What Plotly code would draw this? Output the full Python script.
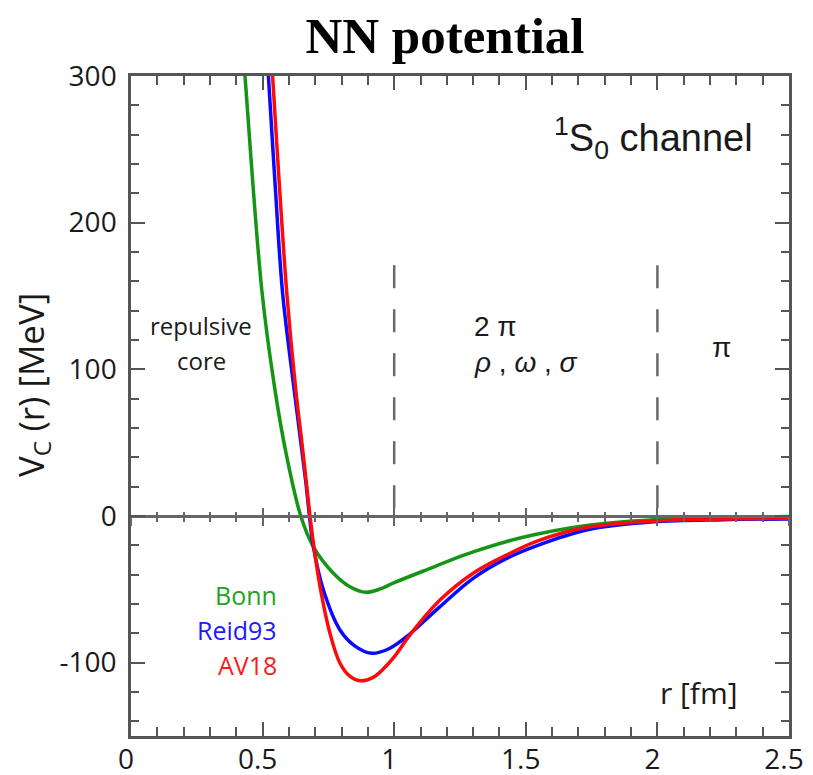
import plotly.graph_objects as go

# ---- data ----
r_bonn = [0.420, 0.433, 0.497, 0.547, 0.590, 0.645, 0.693, 0.769, 0.830, 0.893, 0.950, 1.000, 1.111, 1.300, 1.478, 1.731, 1.985, 2.250, 2.500]
v_bonn = [330, 300, 154, 86, 42, 0, -21, -39, -48, -52, -49.5, -45.5, -37.5, -24.5, -15, -6.5, -2.5, -0.9, -0.3]

r_reid = [0.510, 0.522, 0.548, 0.576, 0.620, 0.644, 0.665, 0.678, 0.693, 0.731, 0.794, 0.850, 0.914, 0.980, 1.047, 1.174, 1.300, 1.427, 1.548, 1.731, 1.985, 2.250, 2.500]
v_reid = [336, 300, 225, 152, 86, 52, 22, 0, -21, -50.5, -77.7, -88.5, -93.6, -90.5, -82.3, -61.8, -42.5, -28.9, -19.8, -9.5, -4.0, -2.5, -2.0]

r_av18 = [0.527, 0.538, 0.564, 0.592, 0.626, 0.648, 0.668, 0.680, 0.695, 0.718, 0.756, 0.794, 0.830, 0.870, 0.920, 0.960, 1.000, 1.060, 1.174, 1.300, 1.427, 1.548, 1.731, 1.985, 2.250, 2.500]
v_av18 = [330, 300, 225, 152, 86, 52, 20, 0, -21, -48, -80, -100.4, -109, -112.3, -110, -104, -96, -81, -57.3, -39, -26.6, -16.8, -7.7, -3.4, -2.0, -1.5]

series_names = ["Bonn", "Reid93", "AV18"]
series_colors = ["#149614", "#0a0aff", "#ff0a0a"]
label_colors = ["#22a322", "#1a1aff", "#ff1a1a"]

boundaries = [1, 2]          # range boundaries (dashed)
boundary_top = 171

x_tickvals = [0, 0.5, 1, 1.5, 2, 2.5]
x_ticktext = ["0", "0.5", "1", "1.5", "2", "2.5"]
y_tickvals = [-100, 0, 100, 200, 300]
y_ticktext = ["-100", "0", "100", "200", "300"]

FRAME = "#555555"
SANS = "Open Sans"

fig = go.Figure()

for rs, vs, name, col in zip([r_bonn, r_reid, r_av18], [v_bonn, v_reid, v_av18], series_names, series_colors):
    fig.add_trace(go.Scatter(x=rs, y=vs, mode="lines", name=name,
                             line=dict(color=col, width=3.5, shape="spline", smoothing=1.0),
                             showlegend=False, hoverinfo="skip"))

for b in boundaries:
    fig.add_trace(go.Scatter(x=[b, b], y=[boundary_top, 0], mode="lines",
                             line=dict(color="#6a6a6a", width=2.5, dash="23px,21px"),
                             showlegend=False, hoverinfo="skip"))

# dummy traces for the zero-line tick axes
fig.add_trace(go.Scatter(x=[None], y=[None], xaxis="x2", yaxis="y", showlegend=False, hoverinfo="skip"))
fig.add_trace(go.Scatter(x=[None], y=[None], xaxis="x3", yaxis="y", showlegend=False, hoverinfo="skip"))

axis_font = dict(family=SANS, size=28, color="#1a1a1a")

# the page body has an 8px default margin, so the figure is sized/offset accordingly
W, H = 805, 767
fig.update_layout(
    width=W, height=H,
    margin=dict(l=123, r=24, t=68, b=39),
    paper_bgcolor="white", plot_bgcolor="white",
    title=dict(text="<b>NN potential</b>", x=437/W, xref="container", xanchor="center",
               y=1-27/H, yref="container", yanchor="middle",
               font=dict(family="Liberation Serif", size=51, color="black")),
    xaxis=dict(range=[0, 2.5], tickvals=x_tickvals, ticktext=x_ticktext, automargin=False,
               ticks="inside", ticklen=14, tickwidth=2, tickcolor=FRAME,
               minor=dict(dtick=0.1, tick0=0, ticks="inside", ticklen=9, tickwidth=2, tickcolor=FRAME, showgrid=False),
               showline=True, linecolor=FRAME, linewidth=2.5, mirror="ticks",
               showgrid=False, zeroline=False, tickfont=axis_font, ticklabelstandoff=-3,
               ticklabelshift=-5),
    yaxis=dict(range=[-150, 300], tickvals=y_tickvals, ticktext=y_ticktext, automargin=False,
               ticks="inside", ticklen=14, tickwidth=2, tickcolor=FRAME,
               minor=dict(dtick=20, tick0=0, ticks="inside", ticklen=8, tickwidth=2, tickcolor=FRAME, showgrid=False),
               showline=True, linecolor=FRAME, linewidth=2.5, mirror="ticks",
               showgrid=False, zeroline=False, tickfont=axis_font, ticklabelstandoff=6),
    xaxis2=dict(range=[0, 2.5], overlaying="x", anchor="free", position=150/450, automargin=False,
                tickvals=x_tickvals, showticklabels=False,
                ticks="outside", ticklen=8, tickwidth=2, tickcolor="#666666",
                minor=dict(dtick=0.1, tick0=0, ticks="outside", ticklen=4, tickwidth=2, tickcolor="#666666", showgrid=False),
                showline=True, linecolor="#666666", linewidth=2.5, showgrid=False, zeroline=False),
    xaxis3=dict(range=[0, 2.5], overlaying="x", anchor="free", position=150/450, automargin=False,
                tickvals=x_tickvals, showticklabels=False,
                ticks="inside", ticklen=8, tickwidth=2, tickcolor="#666666",
                minor=dict(dtick=0.1, tick0=0, ticks="inside", ticklen=4, tickwidth=2, tickcolor="#666666", showgrid=False),
                showline=False, showgrid=False, zeroline=False),
)

ann = []
# y axis title
ann.append(dict(text="V<sub>C</sub> (r) [MeV]", xref="paper", yref="paper",
                x=-(131-32)/658, y=(736-385)/660, xanchor="center", yanchor="middle",
                textangle=-90, showarrow=False, font=dict(family=SANS, size=35, color="#1a1a1a")))
# channel label
ann.append(dict(text="<sup>1</sup>S<sub>0</sub> channel", x=1.987, y=258, xref="x", yref="y",
                showarrow=False, font=dict(family="Liberation Sans", size=38, color="#1a1a1a")))
# regions
ann.append(dict(text="repulsive", x=0.266, y=130, xref="x", yref="y", showarrow=False,
                font=dict(family=SANS, size=24, color="#1a1a1a")))
ann.append(dict(text="core", x=0.266, y=106, xref="x", yref="y", showarrow=False,
                font=dict(family=SANS, size=24, color="#1a1a1a")))
ann.append(dict(text="2 π", x=1.385, y=129.5, xref="x", yref="y", showarrow=False,
                font=dict(family="Liberation Sans", size=28, color="#1a1a1a")))
ann.append(dict(text="<i>ρ</i> , <i>ω</i> , <i>σ</i>", x=1.50, y=105, xref="x", yref="y", showarrow=False,
                font=dict(family="Liberation Sans", size=28, color="#1a1a1a")))
ann.append(dict(text="π", x=2.245, y=115, xref="x", yref="y", showarrow=False,
                font=dict(family="Liberation Sans", size=28, color="#1a1a1a")))
# series labels
for name, col, yv in zip(series_names, label_colors, [-54, -77.7, -101.6]):
    ann.append(dict(text=name, x=0.562, y=yv, xref="x", yref="y", xanchor="right", showarrow=False,
                    font=dict(family=SANS, size=25, color=col)))
# x axis title
ann.append(dict(text="r [fm]", x=2.158, y=-120, xref="x", yref="y", showarrow=False,
                font=dict(family=SANS, size=30, color="#1a1a1a")))

fig.update_layout(annotations=ann)

fig.write_html("out.html")
